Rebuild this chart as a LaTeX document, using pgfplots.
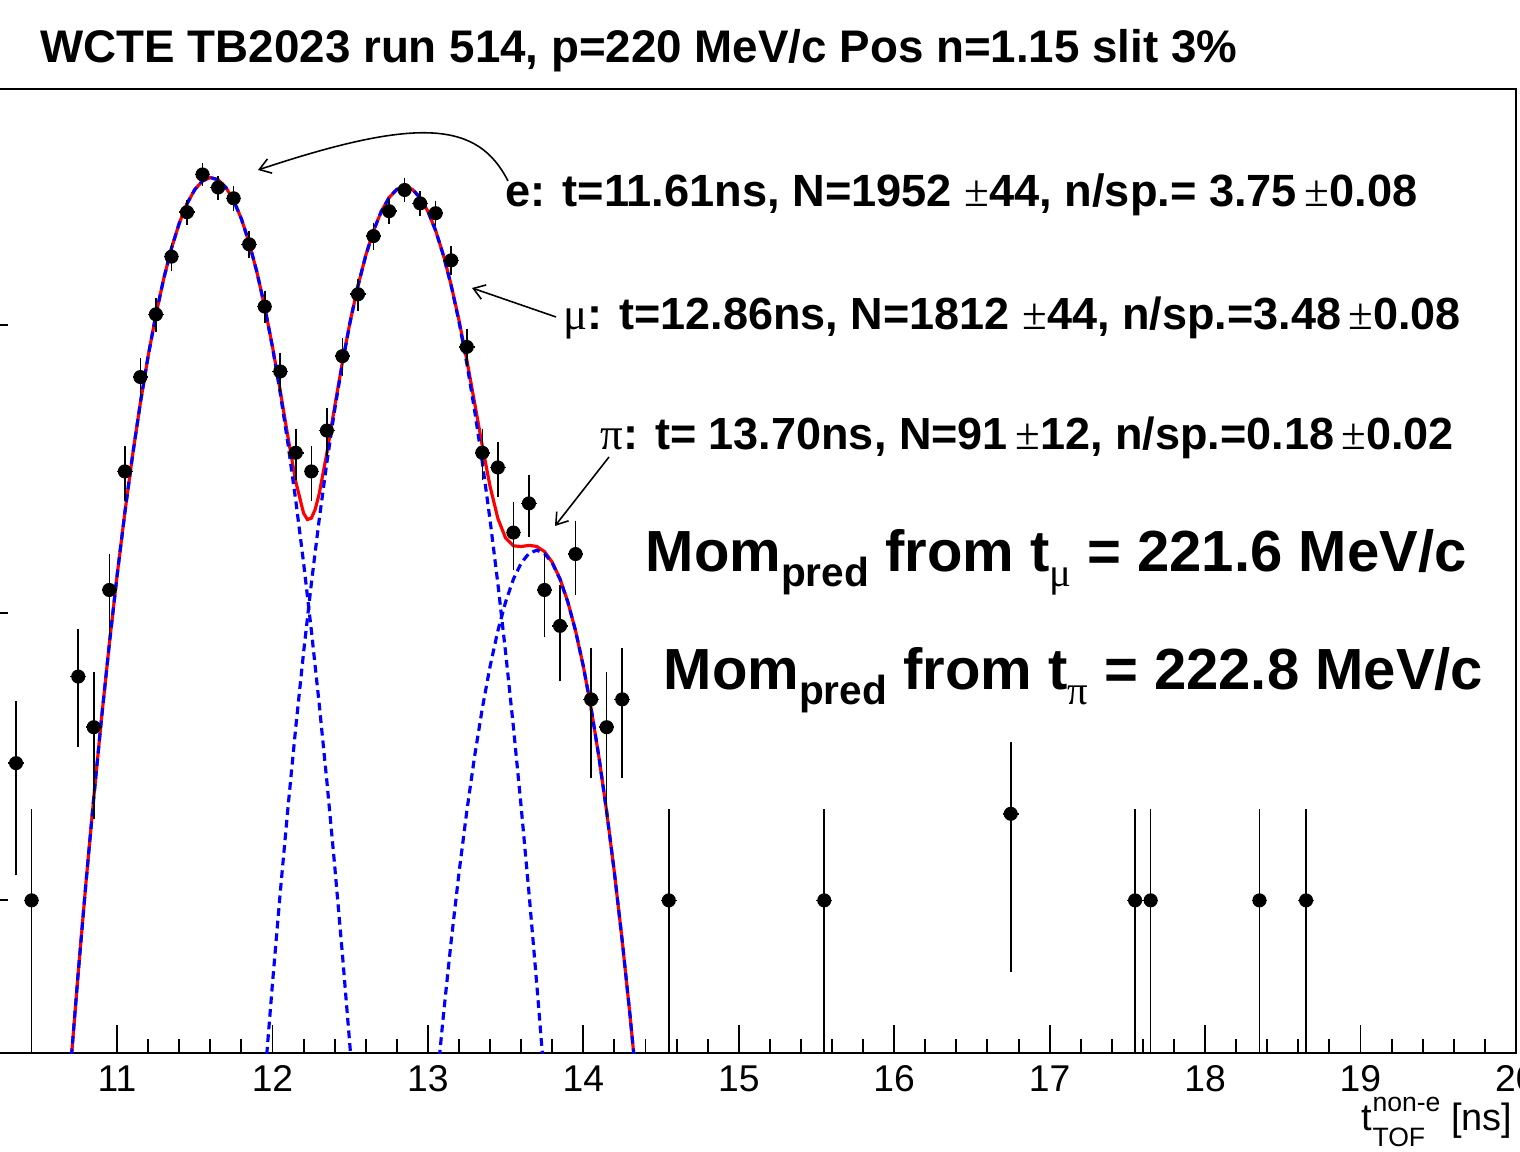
\documentclass[border=0pt]{standalone}
\usepackage{fontspec}
\setmainfont{Liberation Sans}
\newfontfamily\symb{Liberation Serif}
\usepackage{graphicx}
\usepackage{pgfplots}
\pgfplotsset{compat=1.18}
\usepackage{pgfplotstable}
\usetikzlibrary{calc,arrows.meta}
\newcommand{\ssc}[1]{\scalebox{0.7}{#1}}

\pgfplotstableread{
x y ep em
10.35 3 1.732 1.732
10.45 1 1 0.99
10.75 6 2.449 2.449
10.85 4 2 2
10.95 12 3.464 3.464
11.05 31 5.568 5.568
11.15 66 8.124 8.124
11.25 109 10.44 10.44
11.35 173 13.15 13.15
11.45 247 15.72 15.72
11.55 334 18.28 18.28
11.65 301 17.35 17.35
11.75 276 16.61 16.61
11.85 191 13.82 13.82
11.95 116 10.77 10.77
12.05 69 8.307 8.307
12.15 36 6 6
12.25 31 5.568 5.568
12.35 43 6.557 6.557
12.45 78 8.832 8.832
12.55 128 11.31 11.31
12.65 204 14.28 14.28
12.75 249 15.78 15.78
12.85 295 17.18 17.18
12.95 265 16.28 16.28
13.05 245 15.65 15.65
13.15 168 12.96 12.96
13.25 84 9.165 9.165
13.35 36 6 6
13.45 32 5.657 5.657
13.55 19 4.359 4.359
13.65 24 4.899 4.899
13.75 12 3.464 3.464
13.85 9 3 3
13.95 16 4 4
14.05 5 2.236 2.236
14.15 4 2 2
14.25 5 2.236 2.236
14.55 1 1 0.99
15.55 1 1 0.99
16.75 2 1.414 1.414
17.55 1 1 0.99
17.65 1 1 0.99
18.35 1 1 0.99
18.65 1 1 0.99
}\datatab

\pgfplotstableread{
x y
10.70 0.2597
10.75 0.5593
10.80 1.152
10.85 2.273
10.90 4.292
10.95 7.762
11.00 13.43
11.05 22.27
11.10 35.33
11.15 53.68
11.20 78.07
11.25 108.7
11.30 144.9
11.35 184.9
11.40 225.9
11.45 264.3
11.50 296.0
11.55 317.3
11.60 325.9
11.65 320.2
11.70 301.2
11.75 271.3
11.80 234.0
11.85 193.2
11.90 152.7
11.95 115.7
12.00 84.21
12.05 59.12
12.10 40.66
12.15 28.52
12.20 22.19
12.225 21.09
12.25 21.32
12.275 22.90
12.30 25.83
12.35 35.93
12.40 52.03
12.45 74.44
12.50 103.1
12.55 137.0
12.60 174.6
12.65 212.9
12.70 248.5
12.75 277.4
12.80 296.4
12.85 303.0
12.90 296.4
12.95 277.4
13.00 248.5
13.05 213.1
13.10 174.9
13.15 137.6
13.20 104.0
13.25 75.83
13.30 53.87
13.35 38.00
13.40 27.49
13.45 21.28
13.50 18.18
13.55 17.09
13.60 16.99
13.65 17.15
13.70 17.01
13.75 16.32
13.80 14.98
13.85 13.12
13.90 10.92
13.95 8.652
14.00 6.512
14.05 4.655
14.10 3.159
14.15 2.037
14.20 1.247
14.25 0.7249
14.30 0.4003
14.35 0.2099
}\tottab

\pgfplotstableread{
x y
10.70 0.2597
10.75 0.5593
10.80 1.152
10.85 2.273
10.90 4.292
10.95 7.762
11.00 13.43
11.05 22.27
11.10 35.33
11.15 53.68
11.20 78.07
11.25 108.7
11.30 144.9
11.35 184.9
11.40 225.9
11.45 264.3
11.50 296.0
11.55 317.3
11.60 325.9
11.65 320.2
11.70 301.2
11.75 271.3
11.80 234.0
11.85 193.2
11.90 152.7
11.95 115.5
12.00 83.70
12.05 58.05
12.10 38.55
12.15 24.51
12.20 14.92
12.25 8.692
12.30 4.850
12.35 2.590
12.40 1.324
12.45 0.6484
12.50 0.3038
12.55 0.1364
}\etab

\pgfplotstableread{
x y
11.95 0.2377
12.00 0.5147
12.05 1.066
12.10 2.113
12.15 4.008
12.20 7.272
12.25 12.63
12.30 20.98
12.35 33.34
12.40 50.71
12.45 73.79
12.50 102.8
12.55 136.9
12.60 174.5
12.65 212.9
12.70 248.5
12.75 277.4
12.80 296.4
12.85 303.0
12.90 296.4
12.95 277.4
13.00 248.5
13.05 212.9
13.10 174.5
13.15 136.9
13.20 102.8
13.25 73.79
13.30 50.71
13.35 33.34
13.40 20.98
13.45 12.63
13.50 7.272
13.55 4.008
13.60 2.113
13.65 1.066
13.70 0.5147
13.75 0.2377
}\mutab

\pgfplotstableread{
x y
13.05 0.2099
13.10 0.4003
13.15 0.7249
13.20 1.247
13.25 2.037
13.30 3.159
13.35 4.655
13.40 6.512
13.45 8.652
13.50 10.91
13.55 13.08
13.60 14.88
13.65 16.08
13.70 16.50
13.75 16.08
13.80 14.88
13.85 13.08
13.90 10.91
13.95 8.652
14.00 6.512
14.05 4.655
14.10 3.159
14.15 2.037
14.20 1.247
14.25 0.7249
14.30 0.4003
14.35 0.2099
}\pitab

\begin{document}
\begin{tikzpicture}
\begin{axis}[
  name=ax,
  scale only axis,
  width=15.347cm, height=9.637cm,
  xmin=10.12, xmax=20,
  ymode=log, ymin=0.294, ymax=662,
  axis line style={line width=0.55pt},
  xtick={11,12,13,14,15,16,17,18,19,20},
  xticklabels={11,12,13,14,15,16,17,18,19,20},
  minor x tick num=4,
  ytick={1,10,100},
  yticklabels={},
  xtick pos=bottom, ytick pos=left,
  tick align=inside,
  major tick length=0.28cm,
  minor tick length=0.14cm,
  tick style={black, line width=0.55pt},
  xticklabel style={font=\fontsize{10.6}{12}\selectfont},
]
\addplot[red, line width=0.9pt, no marks] table[x=x,y=y] {\tottab};
\addplot[blue, line width=0.9pt, no marks, dash pattern=on 2.2pt off 1.4pt] table[x=x,y=y] {\etab};
\addplot[blue, line width=0.9pt, no marks, dash pattern=on 2.2pt off 1.4pt] table[x=x,y=y] {\mutab};
\addplot[blue, line width=0.9pt, no marks, dash pattern=on 2.2pt off 1.4pt] table[x=x,y=y] {\pitab};
\addplot[draw=none, mark=none, forget plot,
  error bars/.cd, x dir=both, x fixed=0.05, error mark=none,
  error bar style={draw=black, line width=0.45pt}]
  table[x=x,y=y] {\datatab};
\addplot[only marks, mark=*, mark size=1.8pt, black,
  error bars/.cd, y dir=both, y explicit, error mark=-,
  error bar style={black, line width=0.45pt},
  error mark options={black, line width=0.45pt, mark size=1.35pt}]
  table[x=x, y=y, y error plus=ep, y error minus=em] {\datatab};
\end{axis}
\pgfresetboundingbox
\coordinate (O) at ($(ax.south west)+(0.197,10.527)$);
\begin{scope}[shift={(O)}, x=0.01cm, y=-0.01cm]
\useasboundingbox (0,0) rectangle (1520,1152);
\node[anchor=base west, inner sep=0, font=\bfseries\fontsize{13}{15}\selectfont] at (40,63)
  {WCTE TB2023 run 514, p=220 MeV/c Pos n=1.15 slit 3\%};
\node[anchor=base west, inner sep=0, font=\bfseries\fontsize{12.85}{15}\selectfont] at (505,207)
  {e: t=11.61ns, N=1952 {\symb\mdseries ±}44, n/sp.= 3.75\,{\symb\mdseries ±}0.08};
\node[anchor=base west, inner sep=0, font=\bfseries\fontsize{12.8}{15}\selectfont] at (563,330)
  {{\symb\mdseries μ}: t=12.86ns, N=1812 {\symb\mdseries ±}44, n/sp.=3.48\,{\symb\mdseries ±}0.08};
\node[anchor=base west, inner sep=0, font=\bfseries\fontsize{12.8}{15}\selectfont] at (600,450)
  {{\symb\mdseries π}: t= 13.70ns, N=91\,{\symb\mdseries ±}12, n/sp.=0.18\,{\symb\mdseries ±}0.02};
\node[anchor=base west, inner sep=0, font=\bfseries\fontsize{16.5}{18}\selectfont] at (645,572)
  {Mom\raisebox{-0.25em}{\ssc{pred}} from t\raisebox{-0.25em}{\ssc{\symb\mdseries μ}} = 221.6 MeV/c};
\node[anchor=base west, inner sep=0, font=\bfseries\fontsize{16.5}{18}\selectfont] at (663,690)
  {Mom\raisebox{-0.25em}{\ssc{pred}} from t\raisebox{-0.25em}{\ssc{\symb\mdseries π}} = 222.8 MeV/c};
\node[anchor=base east, inner sep=0, font=\fontsize{10.8}{13}\selectfont] at (1513,1131)
  {t\rlap{\raisebox{-0.42em}{\ssc{TOF}}}\raisebox{0.5em}{\ssc{non-e}} [ns]};
\draw[line width=0.45pt, -{Straight Barb[length=1.1mm,width=1.5mm]}] (508,181) .. controls (478,122) and (420,116) .. (258,170);
\draw[line width=0.45pt, -{Straight Barb[length=1.1mm,width=1.5mm]}] (556,317) -- (472,288);
\draw[line width=0.45pt, -{Straight Barb[length=1.1mm,width=1.5mm]}] (609,457) -- (555,526);
\end{scope}
\end{tikzpicture}
\end{document}
